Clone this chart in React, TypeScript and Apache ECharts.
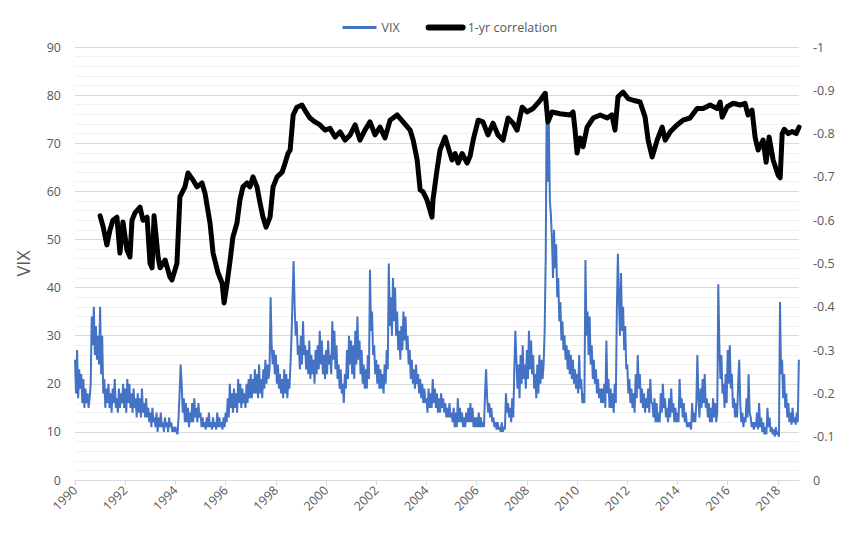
import React, { useEffect, useRef } from "react";
import * as echarts from "echarts";

// ---- Data ----
// VIX, roughly two readings per month, one array per year
const vix1990 = [25, 18, 27, 17, 23, 19, 22, 16, 21, 15, 19, 16, 18, 15, 17, 20, 34, 28, 36, 26, 32, 25, 30, 24];
const vix1991 = [36, 22, 30, 18, 21, 15, 19, 16, 20, 15, 18, 14, 19, 16, 21, 15, 17, 14, 19, 15, 18, 16, 20, 15];
const vix1992 = [19, 14, 21, 16, 20, 15, 18, 14, 19, 15, 17, 13, 18, 14, 17, 13, 19, 14, 16, 13, 17, 13, 15, 12];
const vix1993 = [14, 11, 15, 12, 13, 11, 14, 10, 13, 11, 14, 11, 12, 10, 13, 11, 12, 10, 13, 11, 12, 10, 11, 10];
const vix1994 = [11, 10, 9.5, 13, 18, 24, 20, 14, 17, 12, 16, 12, 15, 11, 14, 12, 16, 12, 17, 13, 15, 12, 16, 13];
const vix1995 = [14, 11, 13, 11, 12, 10.5, 13, 11, 14, 11, 12, 10.5, 13, 11, 12, 10.5, 14, 11, 13, 11, 12, 10.5, 13, 11];
const vix1996 = [14, 12, 17, 13, 20, 15, 18, 14, 19, 15, 18, 14, 21, 16, 20, 15, 19, 16, 18, 15, 20, 16, 21, 17];
const vix1997 = [22, 17, 21, 18, 23, 18, 22, 17, 24, 18, 21, 17, 23, 19, 25, 20, 24, 21, 23, 38, 28, 24, 27, 22];
const vix1998 = [26, 20, 24, 19, 22, 18, 21, 17, 23, 18, 22, 17, 21, 19, 24, 30, 38, 45.5, 36, 30, 33, 26, 28, 23];
const vix1999 = [30, 24, 33, 26, 28, 23, 27, 22, 29, 21, 26, 22, 25, 20, 27, 22, 28, 23, 31, 24, 29, 22, 26, 21];
const vix2000 = [27, 22, 29, 24, 26, 22, 33, 25, 31, 23, 28, 21, 24, 19, 23, 18, 20, 16, 22, 19, 27, 21, 30, 24];
const vix2001 = [29, 22, 28, 21, 31, 24, 34, 25, 29, 22, 27, 20, 24, 19, 23, 19, 26, 21, 43.7, 31, 35, 26, 28, 22];
const vix2002 = [25, 20, 24, 19, 23, 19, 22, 18, 24, 20, 27, 23, 45, 32, 38, 30, 42, 33, 40, 30, 35, 27, 31, 25];
const vix2003 = [32, 27, 35, 29, 34, 27, 30, 24, 27, 21, 25, 20, 23, 19, 24, 20, 22, 18, 21, 17, 20, 16, 19, 16];
const vix2004 = [17, 14, 19, 15, 18, 15, 21, 16, 19, 15, 18, 14, 17, 14, 18, 15, 17, 14, 16, 13, 15, 13, 16, 13];
const vix2005 = [14, 12, 15, 11, 14, 11, 17, 12, 15, 12, 14, 11, 13, 11, 14, 12, 15, 12, 16, 12, 15, 11, 13, 11];
const vix2006 = [13, 11, 14, 11, 13, 11, 12, 11, 18, 23, 17, 14, 16, 13, 15, 12, 13, 11, 12, 10.5, 12, 10.5, 11, 10];
const vix2007 = [12, 10, 11, 10.5, 18, 14, 16, 13, 15, 12, 17, 13, 23, 31, 25, 19, 24, 17, 26, 20, 28, 21, 24, 19];
const vix2008 = [27, 21, 31, 23, 29, 22, 26, 19, 22, 17, 24, 18, 26, 20, 25, 21, 24, 31, 46, 80.6, 62, 74, 58, 55];
const vix2009 = [50, 42, 52, 44, 49, 38, 42, 33, 37, 29, 33, 27, 30, 25, 28, 23, 27, 22, 26, 21, 25, 20, 23, 19];
const vix2010 = [22, 18, 26, 19, 21, 16, 18, 16, 45.7, 30, 35, 26, 34, 24, 28, 21, 25, 20, 23, 18, 21, 17, 19, 16];
const vix2011 = [19, 16, 20, 15, 29, 18, 21, 15, 19, 15, 18, 14, 20, 16, 35, 47, 38, 30, 43, 31, 36, 27, 32, 23];
const vix2012 = [24, 18, 21, 16, 19, 15, 18, 14, 22, 17, 26, 19, 22, 16, 19, 15, 18, 14, 17, 15, 19, 14, 21, 16];
const vix2013 = [16, 13, 17, 12, 16, 12, 14, 12, 18, 14, 20, 15, 17, 13, 15, 12, 17, 13, 19, 14, 16, 12, 15, 12];
const vix2014 = [14, 12, 21, 15, 17, 13, 16, 12, 14, 11, 12, 11, 12, 10.5, 16, 12, 14, 12, 16, 26, 17, 13, 19, 15];
const vix2015 = [21, 16, 22, 15, 17, 13, 16, 12, 15, 12, 17, 13, 16, 12, 14, 40.7, 28, 21, 26, 18, 20, 15, 22, 16];
const vix2016 = [27, 20, 28, 19, 22, 15, 17, 13, 16, 13, 20, 25, 16, 12, 14, 11, 13, 12, 17, 13, 22, 14, 13, 11];
const vix2017 = [12, 10.5, 12, 11, 14, 10.5, 16, 11, 13, 10, 12, 9.5, 11, 9.5, 15, 11, 13, 10, 11, 9.5, 10.5, 9, 11, 9.5];
const vix2018 = [10, 9, 37, 22, 25, 17, 22, 15, 18, 13, 16, 12, 14, 11.5, 15, 12, 13, 11.5, 14, 12, 25];

const vixYears = [
  vix1990, vix1991, vix1992, vix1993, vix1994, vix1995, vix1996, vix1997, vix1998, vix1999,
  vix2000, vix2001, vix2002, vix2003, vix2004, vix2005, vix2006, vix2007, vix2008, vix2009,
  vix2010, vix2011, vix2012, vix2013, vix2014, vix2015, vix2016, vix2017, vix2018,
];
const firstYear = 1990;

// 1-yr correlation (dates in decimal years, values)
const corrDates = [
  1991.0, 1991.12, 1991.27, 1991.39, 1991.51, 1991.67, 1991.79, 1991.91, 1992.07, 1992.19,
  1992.27, 1992.39, 1992.59, 1992.71, 1992.87, 1992.99, 1993.07, 1993.15, 1993.31, 1993.39,
  1993.59, 1993.78, 1993.86, 1994.06, 1994.18, 1994.38, 1994.5, 1994.7, 1994.86, 1995.06,
  1995.18, 1995.38, 1995.5, 1995.7, 1995.86, 1995.94, 1996.06, 1996.18, 1996.29, 1996.45,
  1996.57, 1996.69, 1996.85, 1996.97, 1997.09, 1997.25, 1997.37, 1997.49, 1997.61, 1997.77,
  1997.89, 1998.05, 1998.25, 1998.37, 1998.49, 1998.57, 1998.69, 1998.84, 1999.04, 1999.2,
  1999.36, 1999.56, 1999.76, 1999.96, 2000.16, 2000.36, 2000.56, 2000.76, 2000.96, 2001.16,
  2001.35, 2001.55, 2001.75, 2001.95, 2002.15, 2002.35, 2002.55, 2002.83, 2003.07, 2003.35,
  2003.47, 2003.63, 2003.75, 2003.86, 2004.02, 2004.22, 2004.26, 2004.42, 2004.54, 2004.74,
  2004.86, 2005.02, 2005.14, 2005.26, 2005.42, 2005.62, 2005.74, 2005.86, 2006.06, 2006.25,
  2006.45, 2006.65, 2006.85, 2007.05, 2007.25, 2007.45, 2007.61, 2007.81, 2008.01, 2008.25,
  2008.53, 2008.73, 2008.84, 2009.0, 2009.32, 2009.72, 2009.84, 2009.92, 2010.0, 2010.12,
  2010.24, 2010.4, 2010.64, 2010.92, 2011.2, 2011.39, 2011.51, 2011.63, 2011.83, 2012.03,
  2012.23, 2012.51, 2012.71, 2012.83, 2012.99, 2013.19, 2013.39, 2013.51, 2013.71, 2013.98,
  2014.22, 2014.5, 2014.78, 2015.02, 2015.3, 2015.58, 2015.7, 2015.78, 2015.98, 2016.22,
  2016.49, 2016.69, 2016.81, 2016.97, 2017.09, 2017.21, 2017.41, 2017.53, 2017.65, 2017.81,
  2018.01, 2018.09, 2018.17, 2018.25, 2018.41, 2018.57, 2018.73, 2018.84,
];
const corrValues = [
  -0.61, -0.585, -0.543, -0.577, -0.6, -0.607, -0.524, -0.596, -0.531, -0.515,
  -0.6, -0.617, -0.63, -0.6, -0.607, -0.5, -0.49, -0.61, -0.515, -0.49,
  -0.508, -0.469, -0.462, -0.5, -0.654, -0.677, -0.709, -0.693, -0.677, -0.686,
  -0.662, -0.593, -0.524, -0.478, -0.455, -0.409, -0.455, -0.508, -0.561, -0.593,
  -0.647, -0.677, -0.686, -0.677, -0.7, -0.677, -0.64, -0.607, -0.584, -0.607,
  -0.677, -0.7, -0.711, -0.732, -0.755, -0.762, -0.843, -0.861, -0.866, -0.85,
  -0.836, -0.827, -0.82, -0.808, -0.812, -0.792, -0.804, -0.785, -0.797, -0.82,
  -0.785, -0.808, -0.827, -0.797, -0.815, -0.79, -0.831, -0.843, -0.827, -0.808,
  -0.785, -0.739, -0.67, -0.666, -0.647, -0.607, -0.647, -0.716, -0.762, -0.792,
  -0.769, -0.739, -0.754, -0.732, -0.754, -0.732, -0.748, -0.785, -0.831, -0.827,
  -0.797, -0.824, -0.797, -0.785, -0.836, -0.824, -0.808, -0.861, -0.85, -0.858,
  -0.877, -0.893, -0.827, -0.85, -0.846, -0.843, -0.85, -0.808, -0.755, -0.79,
  -0.77, -0.815, -0.836, -0.843, -0.836, -0.843, -0.808, -0.885, -0.896, -0.881,
  -0.877, -0.873, -0.838, -0.785, -0.746, -0.785, -0.815, -0.785, -0.804, -0.82,
  -0.831, -0.836, -0.858, -0.858, -0.866, -0.858, -0.873, -0.838, -0.862, -0.87,
  -0.866, -0.87, -0.843, -0.854, -0.792, -0.762, -0.785, -0.734, -0.792, -0.739,
  -0.704, -0.698, -0.8, -0.81, -0.8, -0.805, -0.8, -0.815,
];

const xTickYears = [1990, 1992, 1994, 1996, 1998, 2000, 2002, 2004, 2006, 2008, 2010, 2012, 2014, 2016, 2018];
const xMin = 1990;
const xMax = 2018.84;

const FONT = "'Open Sans', 'Liberation Sans', sans-serif";
const TEXT = "#595959";

export default function App() {
  const ref = useRef<HTMLDivElement>(null);

  useEffect(() => {
    if (!ref.current) return;
    const chart = echarts.init(ref.current, undefined, { renderer: "svg" });

    const vixData: number[][] = [];
    vixYears.forEach((arr, yi) => {
      arr.forEach((v, i) => {
        vixData.push([firstYear + yi + i / 24, v]);
      });
    });
    const corrData = corrDates.map((d, i) => [d, corrValues[i]]);

    chart.setOption({
      animation: false,
      backgroundColor: "#ffffff",
      textStyle: { fontFamily: FONT },
      legend: {
        top: 16,
        left: 336,
        itemWidth: 34,
        itemHeight: 2,
        itemGap: 26,
        itemTextGap: 4,
        textStyle: { color: TEXT, fontSize: 12.5, fontFamily: FONT },
        data: [
          { name: "VIX", lineStyle: { width: 3 } },
          { name: "1-yr correlation", lineStyle: { width: 6 } },
        ],
      },
      grid: { left: 75, right: 52, top: 47, bottom: 55, containLabel: false, outerBoundsMode: "none" },
      xAxis: {
        type: "value",
        min: xMin,
        max: xMax,
        splitLine: { show: false },
        axisLine: { show: true, lineStyle: { color: "#d9d9d9", width: 1 } },
        axisTick: {
          show: true,
          length: 5,
          lineStyle: { color: "#d9d9d9" },
          customValues: xTickYears,
        },
        axisLabel: {
          customValues: xTickYears,
          rotate: 45,
          color: TEXT,
          fontSize: 12.5,
          fontFamily: FONT,
          margin: 8,
          formatter: (v: number) => String(Math.round(v)),
        },
      },
      yAxis: [
        {
          type: "value",
          min: 0,
          max: 90,
          interval: 10,
          name: "VIX",
          nameLocation: "middle",
          nameGap: 43,
          nameRotate: 90,
          nameTextStyle: { color: TEXT, fontSize: 18, fontFamily: FONT },
          axisLine: { show: false },
          axisTick: { show: false },
          axisLabel: { color: TEXT, fontSize: 12.5, fontFamily: FONT, margin: 14 },
          splitLine: { show: true, lineStyle: { color: "#d9d9d9", width: 1 } },
          minorTick: { show: false, splitNumber: 5 },
          minorSplitLine: { show: true, lineStyle: { color: "#f0f0f0", width: 1 } },
        },
        {
          type: "value",
          min: -1,
          max: 0,
          interval: 0.1,
          inverse: true,
          position: "right",
          name: "1-yr correlation",
          nameLocation: "middle",
          nameGap: 56,
          nameRotate: -90,
          nameTextStyle: { color: "#a3532f", fontSize: 18, fontFamily: FONT },
          axisLine: { show: false },
          axisTick: { show: false },
          axisLabel: {
            color: TEXT,
            fontSize: 12.5,
            fontFamily: FONT,
            margin: 14,
            formatter: (v: number) => String(Math.round(v * 10) / 10),
          },
          splitLine: { show: false },
        },
      ],
      series: [
        {
          name: "VIX",
          type: "line",
          data: vixData,
          yAxisIndex: 0,
          showSymbol: false,
          symbol: "none",
          lineStyle: { color: "#4472C4", width: 2 },
          itemStyle: { color: "#4472C4" },
          z: 2,
        },
        {
          name: "1-yr correlation",
          type: "line",
          data: corrData,
          yAxisIndex: 1,
          showSymbol: false,
          symbol: "none",
          lineStyle: { color: "#000000", width: 5, join: "round", cap: "round" },
          itemStyle: { color: "#000000" },
          z: 3,
        },
      ],
    });

    return () => chart.dispose();
  }, []);

  return <div ref={ref} style={{ width: 851, height: 535, position: "absolute", left: 0, top: 0 }} />;
}
